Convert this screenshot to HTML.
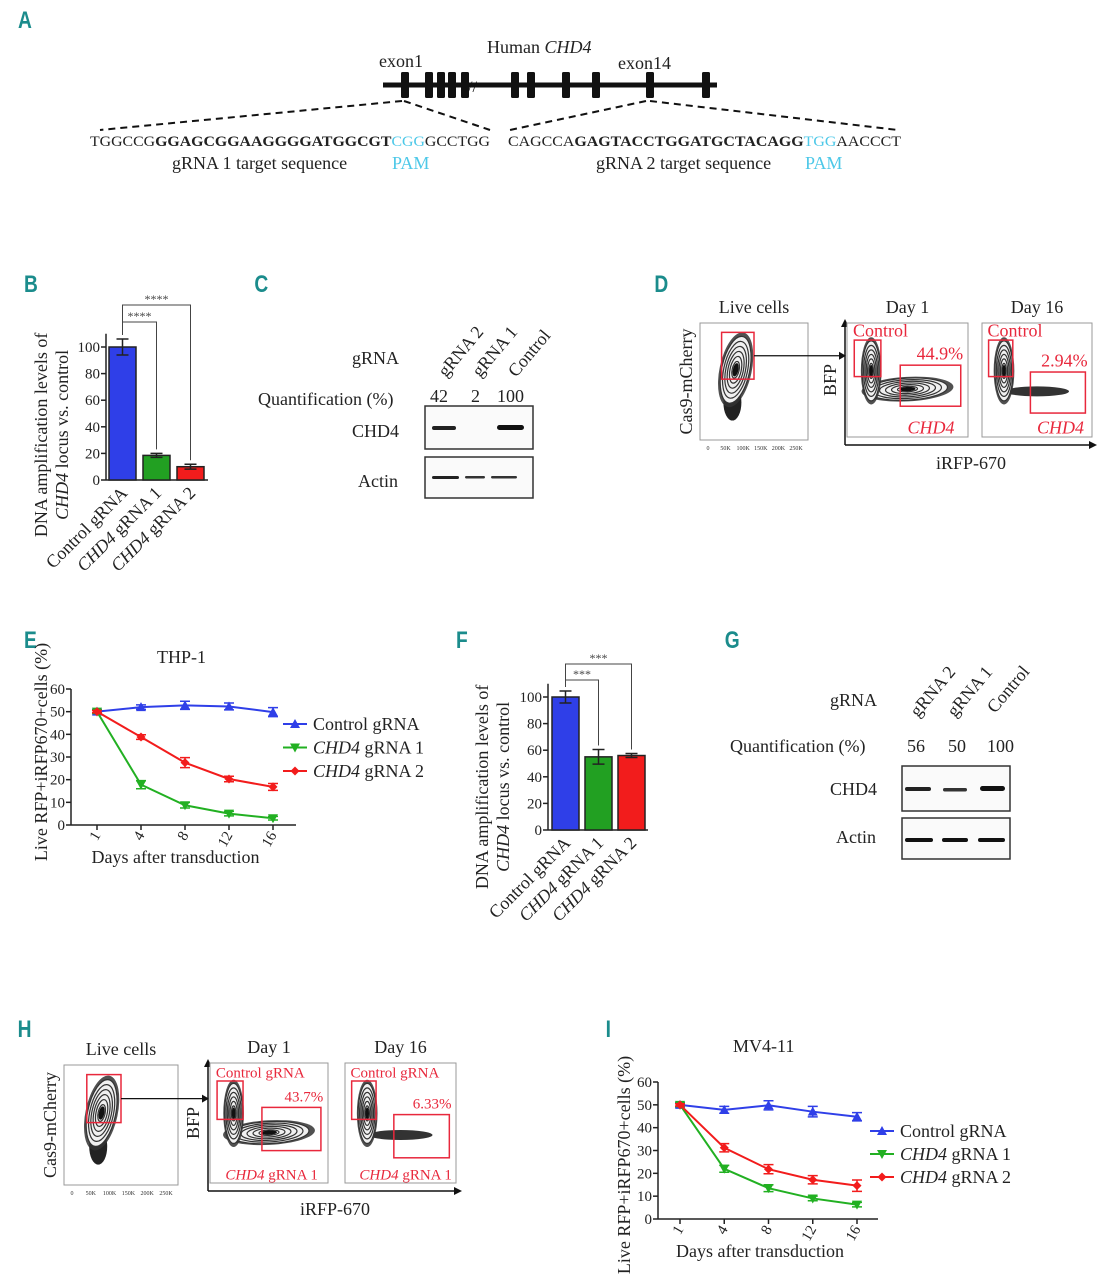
<!DOCTYPE html>
<html><head><meta charset="utf-8">
<style>
html,body{margin:0;padding:0;background:#fff;}
svg{display:block;font-family:"Liberation Serif",serif;}
.pl{font-family:"Liberation Sans",sans-serif;font-weight:bold;fill:#1b8c8c;font-size:24px;}
.t{font-size:18px;fill:#222;}
.tk{font-size:15px;fill:#222;}
.red{fill:#e8283c;}
</style></head>
<body>
<svg id="fig" width="1107" height="1280" viewBox="0 0 1107 1280" xmlns="http://www.w3.org/2000/svg">
<g>
<text class="pl" x="18" y="28" transform="scale(0.8,1) translate(4.5,0)">A</text>
<text class="pl" x="30" y="292" transform="scale(0.8,1)">B</text>
<text class="pl" x="318" y="292" transform="scale(0.8,1)">C</text>
<text class="pl" x="818" y="292" transform="scale(0.8,1)">D</text>
<text class="pl" x="30" y="648" transform="scale(0.8,1)">E</text>
<text class="pl" x="570" y="648" transform="scale(0.8,1)">F</text>
<text class="pl" x="906" y="648" transform="scale(0.8,1)">G</text>
<text class="pl" x="22" y="1037" transform="scale(0.8,1)">H</text>
<text class="pl" x="757" y="1037" transform="scale(0.8,1)">I</text>
</g>

<g id="panelA">
<text class="t" x="487" y="53">Human <tspan font-style="italic">CHD4</tspan></text>
<text class="t" x="379" y="67">exon1</text>
<text class="t" x="618" y="69">exon14</text>
<line x1="383" y1="85" x2="717" y2="85" stroke="#111" stroke-width="5"/>
<g id="exons" fill="#111"></g>
<text x="468" y="92" font-size="16" fill="#111">//</text>
<g stroke="#111" stroke-width="2" stroke-dasharray="7,5" fill="none">
<line x1="402" y1="101" x2="100" y2="130"/><line x1="404" y1="101" x2="490" y2="130"/>
<line x1="646" y1="101" x2="510" y2="130"/><line x1="650" y1="101" x2="898" y2="130"/>
</g>
<text x="90" y="146" font-size="14.5" fill="#222" textLength="400" lengthAdjust="spacingAndGlyphs">TGGCCG<tspan font-weight="bold">GGAGCGGAAGGGGATGGCGT</tspan><tspan fill="#4dc8e8">CGG</tspan>GCCTGG</text>
<text x="508" y="146" font-size="14.5" fill="#222" textLength="393" lengthAdjust="spacingAndGlyphs">CAGCCA<tspan font-weight="bold">GAGTACCTGGATGCTACAGG</tspan><tspan fill="#4dc8e8">TGG</tspan>AACCCT</text>
<text class="t" x="172" y="169">gRNA 1 target sequence</text>
<text x="392" y="169" font-size="18" fill="#4dc8e8">PAM</text>
<text class="t" x="596" y="169">gRNA 2 target sequence</text>
<text x="805" y="169" font-size="18" fill="#4dc8e8">PAM</text>
</g>

<g id="panelB"></g>
<g id="panelF"></g>

<g>
<text class="t" x="352" y="364">gRNA</text>
<text class="t" x="258" y="405">Quantification (%)</text>
<text class="t" x="430" y="402">42</text><text class="t" x="471" y="402">2</text><text class="t" x="497" y="402">100</text>
<text class="t" transform="translate(446,378) rotate(-50)">gRNA 2</text>
<text class="t" transform="translate(480,378) rotate(-50)">gRNA 1</text>
<text class="t" transform="translate(516,378) rotate(-50)">Control</text>
<text class="t" x="352" y="437">CHD4</text>
<text class="t" x="358" y="487">Actin</text>
<rect x="425" y="406" width="108" height="43" fill="#fafafa" stroke="#333" stroke-width="1.5"/>
<rect x="425" y="457" width="108" height="41" fill="#fafafa" stroke="#333" stroke-width="1.5"/>
<rect x="432" y="426" width="24" height="4" rx="2" fill="#222"/>
<rect x="497" y="425" width="27" height="5" rx="2.5" fill="#111"/>
<rect x="432" y="476" width="27" height="3" rx="1.5" fill="#222"/>
<rect x="465" y="476" width="20" height="2.5" rx="1.2" fill="#333"/>
<rect x="491" y="476" width="26" height="2.5" rx="1.2" fill="#333"/>
</g>

<g>
<text class="t" x="830" y="706">gRNA</text>
<text class="t" x="730" y="752">Quantification (%)</text>
<text class="t" x="907" y="752">56</text><text class="t" x="948" y="752">50</text><text class="t" x="987" y="752">100</text>
<text class="t" transform="translate(918,718) rotate(-50)">gRNA 2</text>
<text class="t" transform="translate(955,718) rotate(-50)">gRNA 1</text>
<text class="t" transform="translate(995,714) rotate(-50)">Control</text>
<text class="t" x="830" y="795">CHD4</text>
<text class="t" x="836" y="843">Actin</text>
<rect x="902" y="766" width="108" height="45" fill="#fafafa" stroke="#333" stroke-width="1.5"/>
<rect x="902" y="818" width="108" height="41" fill="#fafafa" stroke="#333" stroke-width="1.5"/>
<rect x="905" y="787" width="26" height="4" rx="2" fill="#222"/>
<rect x="943" y="788" width="24" height="3.5" rx="1.7" fill="#333"/>
<rect x="980" y="786" width="25" height="5" rx="2.5" fill="#111"/>
<rect x="905" y="838" width="28" height="4" rx="2" fill="#111"/>
<rect x="942" y="838" width="26" height="4" rx="2" fill="#111"/>
<rect x="978" y="838" width="27" height="4" rx="2" fill="#111"/>
</g>

<g id="flowD"></g>
<g id="flowH"></g>

<g id="panelE"></g>
<g id="panelI"></g>
</svg>

<script>
const NS="http://www.w3.org/2000/svg";
function mk(tag,attrs,parent,text){const e=document.createElementNS(NS,tag);for(const k in attrs)e.setAttribute(k,attrs[k]);if(text!==undefined)e.textContent=text;parent.appendChild(e);return e;}

const exonPositions=[405,429,441,452,465,515,531,566,596,650,706];
const exonG=document.getElementById('exons');
exonPositions.forEach(x=>{const r=mk('rect',{x:x-4,y:72,width:8,height:26,rx:1.5},exonG);

});

const barCats=["Control gRNA","CHD4 gRNA 1","CHD4 gRNA 2"];
const barColors=["#2f3fe8","#22a022","#f21c1c"];
const bValues=[100,18.5,10];
const bErrors=[6,1.5,1.8];
const fValues=[100,55,56];
const fErrors=[4.5,5.5,1.5];
const barTicks=[0,20,40,60,80,100];

function barChart(id,o,vals,errs,stars){
  const g=document.getElementById(id);
  const y=v=>o.y0-(v/100)*(o.y0-o.y100);
  const x=i=>o.x0+o.pad+i*o.step;
  mk('line',{x1:o.ax,y1:o.y0,x2:o.ax,y2:y(110),stroke:'#222','stroke-width':1.5},g);
  mk('line',{x1:o.ax,y1:o.y0,x2:o.axR,y2:o.y0,stroke:'#222','stroke-width':1.5},g);
  barTicks.forEach(t=>{mk('line',{x1:o.ax-5,y1:y(t),x2:o.ax,y2:y(t),stroke:'#222','stroke-width':1.5},g);
    const tx=mk('text',{x:o.ax-6,y:y(t)+5,'text-anchor':'end',class:'tk'},g,t);
    
    });
  vals.forEach((v,i)=>{
    const b=mk('rect',{x:x(i),y:y(v),width:o.bw,height:o.y0-y(v),fill:barColors[i],stroke:'#222','stroke-width':1.5},g);
    
    
    const cx=x(i)+o.bw/2;
    mk('path',{d:`M${cx},${y(v+errs[i])}V${y(v-errs[i])}M${cx-6},${y(v+errs[i])}h12M${cx-6},${y(v-errs[i])}h12`,stroke:'#222','stroke-width':1.5,fill:'none'},g);
    const l=mk('text',{transform:`translate(${cx+6},${o.y0+14}) rotate(-45)`,'text-anchor':'end',class:'t'},g);
    
    
    if(i==0){l.textContent=barCats[i];}else{mk('tspan',{'font-style':'italic'},l,'CHD4');mk('tspan',{},l,barCats[i].slice(4));}
  });
  const c0=x(0)+o.bw/2;
  [[1,o.s1],[2,o.s2]].forEach(([i,sy])=>{const cx=x(i)+o.bw/2;
    mk('path',{d:`M${c0},${y(vals[0]+errs[0])-4}V${sy}H${cx}V${y(vals[i]+errs[i])-4}`,stroke:'#444','stroke-width':1,fill:'none'},g);
    mk('text',{x:(c0+cx)/2,y:sy-2,'text-anchor':'middle','font-size':12,fill:'#444'},g,stars);});
  mk('text',{transform:`translate(${o.lx},${(o.y0+y(110))/2+o.ly}) rotate(-90)`,'text-anchor':'middle',class:'t'},g,'DNA amplification levels of');
  const yl2=mk('text',{transform:`translate(${o.lx+21},${(o.y0+y(110))/2+o.ly}) rotate(-90)`,'text-anchor':'middle',class:'t'},g);
  mk('tspan',{'font-style':'italic'},yl2,'CHD4');mk('tspan',{},yl2,' locus vs. control');
}
barChart('panelB',{x0:106,pad:3,step:34,bw:27,ax:106,axR:208,y0:480,y100:347,s1:322,s2:305,lx:47,ly:28},bValues,bErrors,'****');
barChart('panelF',{x0:548,pad:4,step:33,bw:27,ax:548,axR:648,y0:830,y100:697,s1:680,s2:664,lx:488,ly:30},fValues,fErrors,'***');

const days=["1","4","8","12","16"];
const seriesNames=["Control gRNA","CHD4 gRNA 1","CHD4 gRNA 2"];
const seriesColors=["#2f3fe8","#22b022","#f21c1c"];
const eControl=[50,52,52.8,52.3,49.8];
const eG1=[50,17.8,8.7,5,3];
const eG2=[50,38.8,27.5,20.3,16.8];
const eErrControl=[1,1,1.8,1.5,2];
const eErrG1=[0.8,1.8,1.2,1,0.8];
const eErrG2=[0.5,1,2.2,1.2,1.5];
const iControl=[50,47.8,49.8,47,44.8];
const iG1=[50,22,13.5,9,6.3];
const iG2=[50,31.2,21.8,17.2,14.6];
const iErrControl=[1,1.5,2,2.3,1.8];
const iErrG1=[0.8,1.5,1.5,1,1];
const iErrG2=[0.5,1.8,2,1.8,2.5];
const lineTicks=[0,10,20,30,40,50,60];

function marker(g,type,cx,cy,col){
  if(type==0) return mk('path',{d:`M${cx},${cy-5}L${cx+5},${cy+4}L${cx-5},${cy+4}Z`,fill:col},g);
  if(type==1) return mk('path',{d:`M${cx},${cy+5}L${cx+5},${cy-4}L${cx-5},${cy-4}Z`,fill:col},g);
  return mk('path',{d:`M${cx},${cy-4.5}L${cx+4.5},${cy}L${cx},${cy+4.5}L${cx-4.5},${cy}Z`,fill:col},g);
}
function lineChart(id,o,series,errs,title){
  const g=document.getElementById(id);
  const y=v=>o.y0-(v/60)*(o.y0-o.y60);
  const x=i=>o.x1+i*(o.x16-o.x1)/(days.length-1);
  mk('line',{x1:o.ax,y1:o.y0,x2:o.ax,y2:o.y60,stroke:'#222','stroke-width':1.5},g);
  mk('line',{x1:o.ax,y1:o.y0,x2:o.axR,y2:o.y0,stroke:'#222','stroke-width':1.5},g);
  lineTicks.forEach(t=>{mk('line',{x1:o.ax-5,y1:y(t),x2:o.ax,y2:y(t),stroke:'#222','stroke-width':1.5},g);
    const tx=mk('text',{x:o.ax-6,y:y(t)+5,'text-anchor':'end',class:'tk'},g,t);
    
    });
  days.forEach((d,i)=>{mk('line',{x1:x(i),y1:o.y0,x2:x(i),y2:o.y0+5,stroke:'#222','stroke-width':1.5},g);
    const tx=mk('text',{transform:`translate(${x(i)+4},${o.y0+10}) rotate(-60)`,'text-anchor':'end',class:'tk'},g,d);
    
    });
  mk('text',{x:(o.ax+o.axR)/2-8,y:o.y0+38,'text-anchor':'middle',class:'t'},g,'Days after transduction');
  mk('text',{transform:`translate(${o.lx},${o.ly}) rotate(-90)`,'text-anchor':'middle',class:'t'},g,'Live RFP+iRFP670+cells (%)');
  mk('text',{x:o.tx,y:o.ty,class:'t'},g,title);
  series.forEach((s,k)=>{
    const col=seriesColors[k];
    const p=mk('polyline',{points:s.map((v,i)=>x(i)+','+y(v)).join(' '),fill:'none',stroke:col,'stroke-width':2},g);
    
    
    s.forEach((v,i)=>{const e=errs[k][i];
      mk('path',{d:`M${x(i)},${y(v+e)}V${y(v-e)}M${x(i)-5},${y(v+e)}h10M${x(i)-5},${y(v-e)}h10`,stroke:col,'stroke-width':1.5,fill:'none'},g);
      const m=marker(g,k,x(i),y(v),col);
      
      });
    const ly=o.legY+k*o.legDy;
    mk('line',{x1:o.legX,y1:ly,x2:o.legX+24,y2:ly,stroke:col,'stroke-width':2},g);
    marker(g,k,o.legX+12,ly,col);
    const lt=mk('text',{x:o.legX+30,y:ly+6,class:'t'},g);
    
    
    if(k==0)lt.textContent=seriesNames[k];else{mk('tspan',{'font-style':'italic'},lt,'CHD4');mk('tspan',{},lt,seriesNames[k].slice(4));}
  });
}
lineChart('panelE',{ax:71,axR:296,y0:825,y60:689,x1:97,x16:273,lx:47,ly:752,tx:157,ty:663,legX:283,legY:724,legDy:23.5},[eControl,eG1,eG2],[eErrControl,eErrG1,eErrG2],'THP-1');
lineChart('panelI',{ax:658,axR:878,y0:1219,y60:1082,x1:680,x16:857,lx:630,ly:1165,tx:733,ty:1052,legX:870,legY:1131,legDy:23},[iControl,iG1,iG2],[iErrControl,iErrG1,iErrG2],'MV4-11');

function blob(g,cx,cy,rx,ry,rot){
  mk('ellipse',{cx:cx,cy:cy,rx:rx*1.15,ry:ry*1.12,transform:`rotate(${rot} ${cx} ${cy})`,fill:'#333',opacity:0.85},g);
  for(let k=0;k<6;k++){const s=1-k*0.15;
    mk('ellipse',{cx:cx,cy:cy,rx:rx*s,ry:ry*s,transform:`rotate(${rot} ${cx} ${cy})`,fill:'#f0f0f0',stroke:'#333','stroke-width':1.2},g);}
  mk('ellipse',{cx:cx,cy:cy,rx:rx*0.2,ry:ry*0.2,transform:`rotate(${rot} ${cx} ${cy})`,fill:'#111'},g);
}
function flow(id,o){
  const g=document.getElementById(id);
  mk('text',{x:o.L.x+o.L.w/2,y:o.L.y-10,'text-anchor':'middle',class:'t'},g,'Live cells');
  mk('rect',{x:o.L.x,y:o.L.y,width:o.L.w,height:o.L.h,fill:'#fff',stroke:'#999'},g);
  mk('ellipse',{cx:o.L.x+o.L.w*0.3,cy:o.L.y+o.L.h*0.68,rx:9,ry:18,fill:'#222'},g);
  blob(g,o.L.x+o.L.w*0.33,o.L.y+o.L.h*0.4,14,34,12);
  mk('rect',{x:o.L.x+o.L.w*0.2,y:o.L.y+o.L.h*0.08,width:o.L.w*0.3,height:o.L.h*0.4,fill:'none',stroke:'#e8283c','stroke-width':1.5},g);
  mk('text',{transform:`translate(${o.L.x-8},${o.L.y+o.L.h/2}) rotate(-90)`,'text-anchor':'middle',class:'t'},g,'Cas9-mCherry');
  ['0','50K','100K','150K','200K','250K'].forEach((t,i)=>mk('text',{x:o.L.x+8+i*(o.L.w-20)/5,y:o.L.y+o.L.h+10,'font-size':6,'text-anchor':'middle',fill:'#333'},g,t));
  mk('path',{d:`M${o.L.x+o.L.w*0.5},${o.L.y+o.L.h*0.28}H${o.D1.x-8}`,stroke:'#111','stroke-width':1.2},g);
  mk('path',{d:`M${o.D1.x-8},${o.L.y+o.L.h*0.28-4}l7,4l-7,4z`,fill:'#111'},g);
  mk('path',{d:`M${o.D1.x-2},${o.D1.y+o.D1.h+8}V${o.D1.y-2}M${o.D1.x-2},${o.D1.y+o.D1.h+8}H${o.ax2}`,stroke:'#111','stroke-width':1.5,fill:'none'},g);
  mk('path',{d:`M${o.D1.x-6},${o.D1.y+4}l4,-8l4,8z`,fill:'#111'},g);
  mk('path',{d:`M${o.ax2-6},${o.D1.y+o.D1.h+4}l8,4l-8,4z`,fill:'#111'},g);
  mk('text',{transform:`translate(${o.D1.x-11},${o.D1.y+o.D1.h/2}) rotate(-90)`,'text-anchor':'middle',class:'t'},g,'BFP');
  mk('text',{x:(o.D1.x+o.ax2)/2,y:o.D1.y+o.D1.h+32,'text-anchor':'middle',class:'t'},g,'iRFP-670');
  [[o.D1,'Day 1',o.p1,true],[o.D2,'Day 16',o.p2,false]].forEach(([b,day,pct,big])=>{
    mk('text',{x:b.x+b.w/2,y:b.y-10,'text-anchor':'middle',class:'t'},g,day);
    mk('rect',{x:b.x,y:b.y,width:b.w,height:b.h,fill:'#fff',stroke:'#999'},g);
    if(big)blob(g,b.x+b.w*0.5,b.y+b.h*0.58,40,11,-3);
    else{mk('ellipse',{cx:b.x+b.w*0.5,cy:b.y+b.h*0.6,rx:32,ry:5,fill:'#333'},g);}
    blob(g,b.x+b.w*0.2,b.y+b.h*0.42,9,30,0);
    mk('rect',{x:b.x+b.w*0.06,y:b.y+b.h*0.15,width:b.w*0.22,height:b.h*0.32,fill:'none',stroke:'#e8283c','stroke-width':1.5},g);
    mk('rect',{x:b.x+b.w*0.44,y:b.y+b.h*(big?0.37:0.43),width:b.w*0.5,height:b.h*0.36,fill:'none',stroke:'#e8283c','stroke-width':1.5},g);
    mk('text',{x:b.x+b.w*0.05,y:b.y+b.h*0.12,'font-size':o.fs,class:'red'},g,o.ctl);
    const ct=mk('text',{x:b.x+b.w*o.cx,y:b.y+b.h*0.97,'font-size':o.fs,class:'red','font-style':'italic'},g,'CHD4');
    if(o.ctl!=='Control'){mk('tspan',{'font-style':'normal'},ct,' gRNA 1');}
    mk('text',{x:b.x+b.w*0.96,y:b.y+b.h*(big?0.32:0.38),'text-anchor':'end','font-size':o.fs,class:'red'},g,pct);
  });
}
flow('flowD',{L:{x:700,y:323,w:108,h:117},D1:{x:847,y:323,w:121,h:114},D2:{x:982,y:323,w:110,h:114},ax2:1095,p1:'44.9%',p2:'2.94%',ctl:'Control',fs:18,cx:0.5});
flow('flowH',{L:{x:64,y:1065,w:114,h:120},D1:{x:210,y:1063,w:118,h:120},D2:{x:345,y:1063,w:111,h:120},ax2:460,p1:'43.7%',p2:'6.33%',ctl:'Control gRNA',fs:15,cx:0.13});
</script>
</body></html>
